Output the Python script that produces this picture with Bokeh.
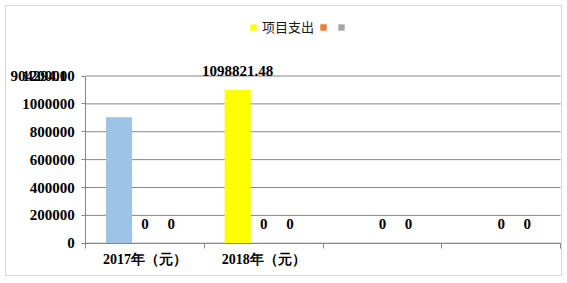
from bokeh.plotting import figure
from bokeh.models import (ColumnDataSource, FixedTicker, Legend, LegendItem, Label,
                          Range1d)
from bokeh.core.properties import value
from bokeh.embed import file_html
from bokeh.resources import INLINE

# ---- data ----
categories = ["2017年（元）", "2018年（元）", "", ""]
series_names = ["项目支出", " ", " "]
s1_values = [904294.1, 1098821.48, None, None]
s2_values = [0, 0, 0, 0]
s3_values = [0, 0, 0, 0]
s1_point_colors = ["#9DC3E6", "#FFFF00", "#FFFF00", "#FFFF00"]
series_colors = ["#FFFF00", "#ED7D31", "#A5A5A5"]
y_ticks = [0, 200000, 400000, 600000, 800000, 1000000, 1200000]


def fmt(v):
    return str(int(v)) if float(v).is_integer() else repr(float(v))


# ---- layout (page pixels) ----
CAN_L, CAN_R, CAN_T, CAN_B = 6, 561, 6, 275     # canvas inside the 1px frame
AX_X, AX_Y = 85, 241                            # where x=0 / y=0 sit
PLOT_R, PLOT_T = 558, 75                        # where x=4 / y=max sit
y_max = y_ticks[-1]
n = len(categories)
px_x = (PLOT_R - AX_X) / n
px_y = (AX_Y - PLOT_T) / y_max
x_start, x_end = (CAN_L - AX_X) / px_x, (CAN_R - AX_X) / px_x
y_start, y_end = -(CAN_B - AX_Y) / px_y, (AX_Y - CAN_T) / px_y

SERIF = "Liberation Serif"
BAR_W = 0.22
offsets = [-BAR_W, 0.0, BAR_W]
GRID = "#868686"

p = figure(width=557, height=271, output_backend="svg", toolbar_location=None,
           x_range=Range1d(x_start, x_end), y_range=Range1d(y_start, y_end),
           min_border=0, background_fill_color="white", border_fill_color="white",
           outline_line_color=None)
p.margin = (5, 0, 0, 5)
p.styles = {"border": "1px solid #D9D9D9", "box-sizing": "border-box"}
p.xgrid.visible = False
p.ygrid.visible = False

# horizontal gridlines limited to the plot area
p.segment(x0=[0] * len(y_ticks), x1=[n] * len(y_ticks), y0=y_ticks, y1=y_ticks,
          line_color=GRID, line_width=1)

all_series = [s1_values, s2_values, s3_values]
for k, vals in enumerate(all_series):
    xs = [i + 0.5 + offsets[k] for i in range(n)]
    tops = [float("nan") if v is None else v for v in vals]
    cols = s1_point_colors if k == 0 else [series_colors[k]] * n
    src = ColumnDataSource(dict(x=xs, top=tops, color=cols))
    p.vbar(x="x", top="top", width=BAR_W, color="color", line_color=None, source=src)

# legend (proxy renderers in the series colours)
legend_items = []
for k, name in enumerate(series_names):
    proxy = p.vbar(x=[float("nan")], top=[float("nan")], width=BAR_W,
                   fill_color=series_colors[k], line_color=None)
    legend_items.append(LegendItem(label=name, renderers=[proxy]))
legend = Legend(items=legend_items, orientation="horizontal",
                location=(249 - CAN_L, CAN_B - 34),
                glyph_width=8, glyph_height=8, label_standoff=5, spacing=5,
                label_width=0, padding=0, margin=0, border_line_color=None,
                background_fill_alpha=0,
                label_text_font="Noto Sans CJK SC", label_text_font_size="13px",
                label_text_color="#1a1a1a")
p.add_layout(legend, "center")

# data labels
lbl_x, lbl_y, lbl_t = [], [], []
for k in (1, 2):
    for i, v in enumerate(all_series[k]):
        lbl_x.append(i + 0.5 + offsets[k]); lbl_y.append(v); lbl_t.append(fmt(v))
lbl_x.append(1 + 0.5 + offsets[0]); lbl_y.append(s1_values[1]); lbl_t.append(f"{s1_values[1]:.2f}")
p.text(x=lbl_x, y=lbl_y, text=lbl_t, text_align="center", text_baseline="alphabetic",
       y_offset=-19, text_font=value(SERIF), text_font_size="15px",
       text_font_style="bold", text_color="black")

# displaced 2017 label (sits over the top tick label, as in the source chart)
p.add_layout(Label(x=(10 - AX_X) / px_x, y=y_max, text=fmt(s1_values[0]),
                   text_align="left", text_baseline="middle",
                   text_font=SERIF, text_font_size="15px", text_font_style="bold",
                   text_color="black"))

# axes pinned at the data origin
yax = p.yaxis[0]
yax.fixed_location = 0
yax.bounds = (0, y_max)
yax.ticker = FixedTicker(ticks=y_ticks)
yax.formatter.use_scientific = False
yax.axis_line_color = GRID
yax.major_tick_line_color = GRID
yax.major_tick_out = 4
yax.major_tick_in = 0
yax.minor_tick_line_color = None
yax.major_label_standoff = 7
yax.major_label_text_font = SERIF
yax.major_label_text_font_size = "15px"
yax.major_label_text_font_style = "bold"
yax.major_label_text_color = "black"

centers = [i + 0.5 for i in range(n)]
xax = p.xaxis[0]
xax.fixed_location = 0
xax.bounds = (0, n)
xax.ticker = FixedTicker(ticks=centers, minor_ticks=list(range(n + 1)))
xax.major_label_overrides = {c: lab for c, lab in zip(centers, categories)}
xax.axis_line_color = GRID
xax.major_tick_line_color = None
xax.minor_tick_line_color = GRID
xax.minor_tick_out = 5
xax.minor_tick_in = 0
xax.major_label_standoff = 3
xax.major_label_text_font = SERIF
xax.major_label_text_font_size = "14px"
xax.major_label_text_font_style = "bold"
xax.major_label_text_color = "black"

open("out.html", "w").write(file_html(p, INLINE))
